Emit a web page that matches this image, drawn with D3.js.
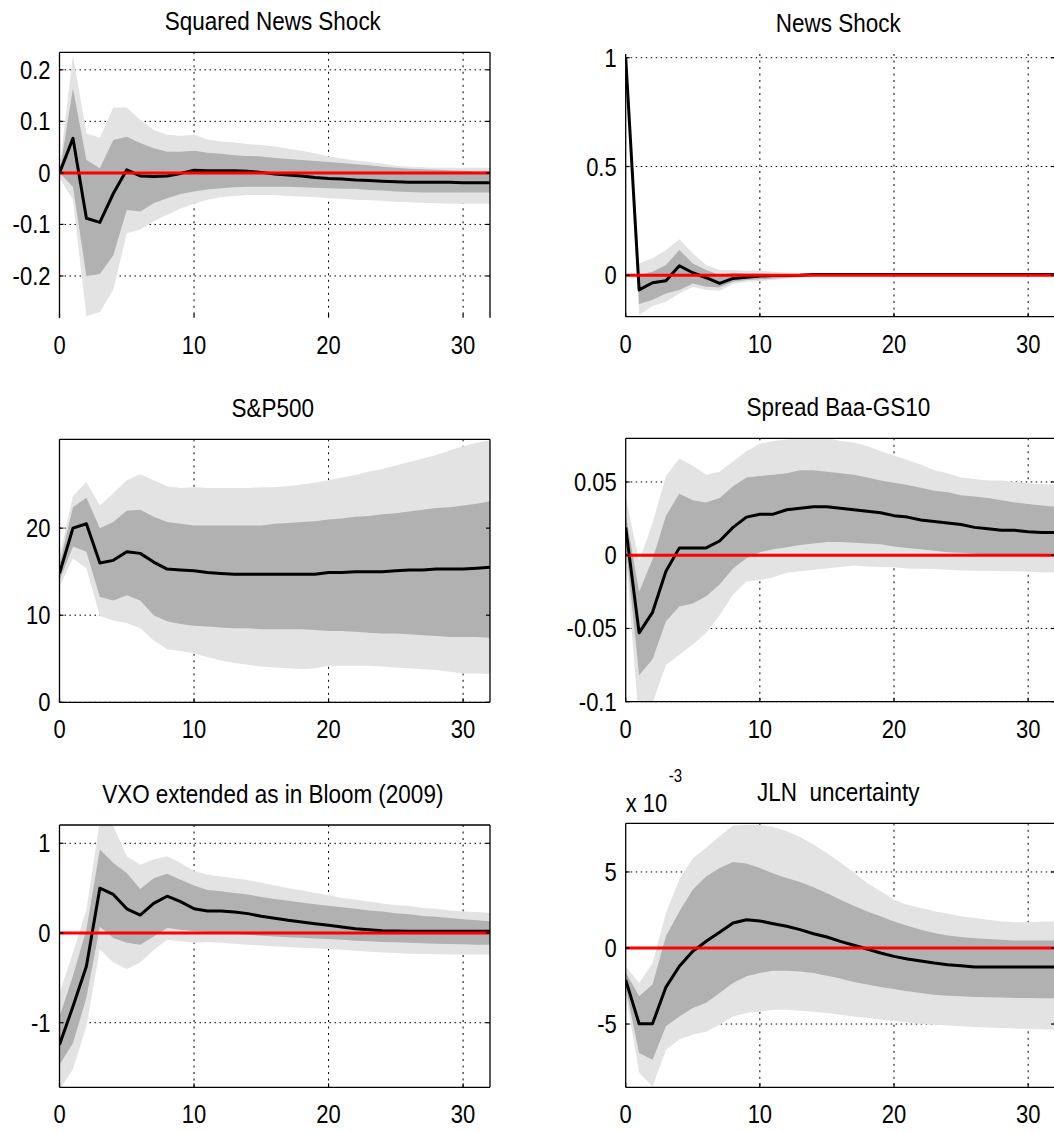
<!DOCTYPE html>
<html>
<head>
<meta charset="utf-8">
<script src="https://cdn.jsdelivr.net/npm/d3@7/dist/d3.min.js"></script>
<style>
  body { margin: 0; background: #fff; }
  svg text { font-family: "Liberation Sans", Arial, Helvetica, sans-serif; fill: #000; white-space: pre; }
</style>
</head>
<body>
<svg id="chart" width="1054" height="1132"></svg>
<script>
// Impulse responses, horizons 0..32, median + 68% and 90% bands
const horizons = [0, 1, 2, 3, 4, 5, 6, 7, 8, 9, 10, 11, 12, 13, 14, 15, 16, 17, 18, 19, 20, 21, 22, 23, 24, 25, 26, 27, 28, 29, 30, 31, 32];
const xTicks = [0, 10, 20, 30];

const titles = ["Squared News Shock", "News Shock", "S&P500", "Spread Baa-GS10", "VXO extended as in Bloom (2009)", "JLN  uncertainty"];

// Squared News Shock
const sqNewsMed = [0, 0.067, -0.088, -0.096, -0.04, 0.006, -0.006, -0.007, -0.006, -0.001, 0.005, 0.004, 0.004, 0.004, 0.003, 0.001, -0.002, -0.004, -0.006, -0.009, -0.011, -0.012, -0.014, -0.015, -0.016, -0.017, -0.018, -0.018, -0.018, -0.018, -0.019, -0.019, -0.019];
const sqNewsHi68 = [0, 0.164, 0.025, 0.009, 0.064, 0.07, 0.058, 0.048, 0.041, 0.041, 0.043, 0.039, 0.037, 0.034, 0.033, 0.032, 0.029, 0.027, 0.025, 0.023, 0.021, 0.019, 0.017, 0.015, 0.012, 0.01, 0.008, 0.007, 0.006, 0.005, 0.004, 0.003, 0.003];
const sqNewsLo68 = [0, -0.027, -0.2, -0.196, -0.16, -0.072, -0.075, -0.059, -0.049, -0.041, -0.036, -0.032, -0.03, -0.028, -0.027, -0.027, -0.027, -0.027, -0.028, -0.029, -0.03, -0.031, -0.031, -0.033, -0.034, -0.036, -0.037, -0.038, -0.038, -0.038, -0.038, -0.038, -0.038];
const sqNewsHi90 = [0.01, 0.229, 0.077, 0.068, 0.127, 0.127, 0.103, 0.083, 0.074, 0.072, 0.074, 0.065, 0.061, 0.059, 0.056, 0.054, 0.051, 0.047, 0.043, 0.038, 0.032, 0.028, 0.024, 0.021, 0.018, 0.014, 0.012, 0.011, 0.01, 0.01, 0.01, 0.01, 0.01];
const sqNewsLo90 = [-0.01, -0.052, -0.278, -0.27, -0.227, -0.117, -0.11, -0.094, -0.081, -0.069, -0.06, -0.052, -0.047, -0.045, -0.043, -0.043, -0.043, -0.045, -0.046, -0.047, -0.049, -0.05, -0.052, -0.053, -0.054, -0.056, -0.057, -0.058, -0.059, -0.06, -0.06, -0.06, -0.06];
const sqNewsTicks = [-0.2, -0.1, 0, 0.1, 0.2];
const sqNewsTickLabels = ["-0.2", "-0.1", "0", "0.1", "0.2"];

// News Shock
const newsMed = [1, -0.067, -0.034, -0.025, 0.044, 0.012, -0.011, -0.037, -0.014, -0.009, -0.003, -0.001, -0.001, 0, 0.004, 0.004, 0.004, 0.004, 0.004, 0.004, 0.004, 0.004, 0.004, 0.004, 0.004, 0.004, 0.004, 0.004, 0.004, 0.004, 0.004, 0.004, 0.004];
const newsHi68 = [1, 0.002, 0.017, 0.048, 0.117, 0.055, 0.025, 0.002, 0.012, 0.009, 0.009, 0.006, 0.005, 0.005, 0.006, 0.006, 0.006, 0.006, 0.006, 0.006, 0.006, 0.006, 0.006, 0.006, 0.006, 0.006, 0.006, 0.006, 0.006, 0.006, 0.006, 0.006, 0.006];
const newsLo68 = [1, -0.132, -0.112, -0.083, -0.067, -0.037, -0.052, -0.055, -0.029, -0.021, -0.018, -0.014, -0.011, -0.008, 0.001, 0.001, 0.001, 0.001, 0.001, 0.001, 0.001, 0.001, 0.001, 0.001, 0.001, 0.001, 0.001, 0.001, 0.001, 0.001, 0.001, 0.001, 0.001];
const newsHi90 = [1, 0.055, 0.078, 0.117, 0.166, 0.101, 0.047, 0.025, 0.025, 0.021, 0.021, 0.017, 0.012, 0.009, 0.008, 0.008, 0.008, 0.008, 0.008, 0.008, 0.008, 0.008, 0.008, 0.008, 0.008, 0.008, 0.008, 0.008, 0.008, 0.008, 0.008, 0.008, 0.008];
const newsLo90 = [1, -0.183, -0.141, -0.121, -0.083, -0.052, -0.067, -0.071, -0.04, -0.029, -0.026, -0.021, -0.015, -0.011, -0.002, -0.002, -0.002, -0.002, -0.002, -0.002, -0.002, -0.002, -0.002, -0.002, -0.002, -0.002, -0.002, -0.002, -0.002, -0.002, -0.002, -0.002, -0.002];
const newsTicks = [0, 0.5, 1];
const newsTickLabels = ["0", "0.5", "1"];

// S&P500
const spMed = [14.8, 20.0, 20.5, 16.0, 16.3, 17.3, 17.1, 16.1, 15.3, 15.2, 15.1, 14.9, 14.8, 14.7, 14.7, 14.7, 14.7, 14.7, 14.7, 14.7, 14.9, 14.9, 15.0, 15.0, 15.0, 15.1, 15.2, 15.2, 15.3, 15.3, 15.3, 15.4, 15.5];
const spHi68 = [15.8, 22.4, 23.5, 20.0, 20.7, 22.0, 22.1, 21.3, 20.7, 20.5, 20.3, 20.3, 20.3, 20.3, 20.3, 20.3, 20.5, 20.6, 20.7, 20.8, 21.0, 21.1, 21.3, 21.4, 21.6, 21.7, 21.9, 22.1, 22.3, 22.4, 22.6, 22.8, 23.1];
const spLo68 = [14.0, 17.9, 17.3, 12.1, 11.7, 12.3, 11.7, 10.0, 9.3, 9.0, 8.8, 8.7, 8.6, 8.5, 8.5, 8.4, 8.4, 8.4, 8.4, 8.3, 8.2, 8.2, 8.1, 8.0, 7.9, 7.9, 7.8, 7.7, 7.6, 7.5, 7.5, 7.5, 7.4];
const spHi90 = [16.7, 23.7, 25.3, 22.6, 24.0, 25.5, 26.2, 25.5, 24.8, 24.6, 24.7, 24.6, 24.6, 24.6, 24.6, 24.7, 24.7, 24.8, 25.0, 25.2, 25.5, 25.8, 26.1, 26.5, 26.8, 27.2, 27.6, 28.0, 28.4, 28.9, 29.4, 29.8, 30.1];
const spLo90 = [13.3, 16.5, 15.4, 9.9, 9.4, 9.1, 8.5, 7.1, 6.1, 5.9, 5.6, 5.2, 4.8, 4.5, 4.3, 4.1, 4.0, 3.9, 3.8, 3.9, 4.2, 4.2, 4.2, 4.2, 4.1, 4.0, 3.9, 3.8, 3.7, 3.5, 3.3, 3.3, 3.25];
const spTicks = [0, 10, 20];
const spTickLabels = ["0", "10", "20"];

// Spread Baa-GS10
const spreadMed = [0.019, -0.053, -0.039, -0.011, 0.005, 0.005, 0.005, 0.0097, 0.019, 0.026, 0.028, 0.028, 0.031, 0.032, 0.033, 0.033, 0.032, 0.031, 0.030, 0.029, 0.027, 0.026, 0.024, 0.023, 0.022, 0.021, 0.019, 0.018, 0.017, 0.017, 0.016, 0.0155, 0.0155];
const spreadHi68 = [0.028, -0.025, -0.003, 0.027, 0.042, 0.0375, 0.036, 0.039, 0.047, 0.053, 0.054, 0.055, 0.056, 0.058, 0.058, 0.057, 0.056, 0.055, 0.053, 0.051, 0.0495, 0.048, 0.046, 0.044, 0.043, 0.041, 0.040, 0.039, 0.0375, 0.036, 0.035, 0.034, 0.033];
const spreadLo68 = [0.008, -0.082, -0.071, -0.045, -0.035, -0.033, -0.028, -0.02, -0.009, -0.002, 0.002, 0.004, 0.0055, 0.007, 0.008, 0.009, 0.009, 0.0085, 0.008, 0.0074, 0.006, 0.005, 0.004, 0.003, 0.002, 0.0016, 0.001, 0.0005, 0.0005, 0, -0.0002, -0.0007, -0.0007];
const spreadHi90 = [0.04, -0.004, 0.022, 0.054, 0.066, 0.061, 0.055, 0.057, 0.064, 0.071, 0.076, 0.078, 0.079, 0.080, 0.080, 0.080, 0.078, 0.077, 0.0745, 0.071, 0.068, 0.065, 0.062, 0.058, 0.056, 0.053, 0.052, 0.051, 0.051, 0.050, 0.049, 0.0486, 0.048];
const spreadLo90 = [0.0, -0.115, -0.101, -0.075, -0.068, -0.061, -0.053, -0.041, -0.027, -0.018, -0.017, -0.015, -0.012, -0.011, -0.010, -0.009, -0.008, -0.007, -0.0077, -0.008, -0.0083, -0.009, -0.0093, -0.0095, -0.010, -0.0104, -0.0106, -0.0106, -0.011, -0.011, -0.0113, -0.0116, -0.0116];
const spreadTicks = [-0.1, -0.05, 0, 0.05];
const spreadTickLabels = ["-0.1", "-0.05", "0", "0.05"];

// VXO extended as in Bloom (2009)
const vxoMed = [-1.245, -0.82, -0.37, 0.50, 0.43, 0.27, 0.20, 0.33, 0.41, 0.35, 0.27, 0.245, 0.245, 0.234, 0.216, 0.186, 0.164, 0.141, 0.123, 0.104, 0.086, 0.067, 0.048, 0.037, 0.026, 0.022, 0.019, 0.019, 0.019, 0.019, 0.019, 0.019, 0.019];
const vxoHi68 = [-0.93, -0.48, 0.04, 0.93, 0.78, 0.67, 0.49, 0.61, 0.66, 0.595, 0.53, 0.48, 0.465, 0.446, 0.43, 0.40, 0.38, 0.36, 0.34, 0.32, 0.305, 0.286, 0.27, 0.25, 0.24, 0.22, 0.21, 0.19, 0.18, 0.167, 0.152, 0.141, 0.13];
const vxoLo68 = [-1.47, -1.23, -0.72, 0.07, -0.056, -0.11, -0.13, -0.04, 0.056, 0.037, 0.019, 0.01, 0.0, -0.007, -0.02, -0.03, -0.04, -0.048, -0.052, -0.06, -0.067, -0.074, -0.085, -0.093, -0.10, -0.104, -0.11, -0.115, -0.119, -0.123, -0.126, -0.13, -0.13];
const vxoHi90 = [-0.67, -0.22, 0.26, 1.25, 1.19, 0.855, 0.76, 0.82, 0.855, 0.78, 0.69, 0.65, 0.63, 0.61, 0.59, 0.56, 0.53, 0.50, 0.476, 0.446, 0.42, 0.39, 0.37, 0.35, 0.33, 0.31, 0.30, 0.28, 0.27, 0.25, 0.24, 0.234, 0.223];
const vxoLo90 = [-1.75, -1.52, -1.04, -0.18, -0.33, -0.40, -0.33, -0.19, -0.074, -0.093, -0.11, -0.10, -0.11, -0.12, -0.13, -0.14, -0.15, -0.156, -0.163, -0.17, -0.178, -0.186, -0.197, -0.208, -0.216, -0.223, -0.23, -0.234, -0.238, -0.24, -0.24, -0.24, -0.24];
const vxoTicks = [-1, 0, 1];
const vxoTickLabels = ["-1", "0", "1"];

// JLN uncertainty (units of 10^-3)
const jlnMed = [-2.1, -4.98, -4.98, -2.57, -1.2, -0.22, 0.44, 1.03, 1.64, 1.86, 1.78, 1.6, 1.43, 1.21, 0.94, 0.72, 0.44, 0.18, -0.07, -0.33, -0.55, -0.72, -0.86, -0.99, -1.10, -1.16, -1.25, -1.25, -1.25, -1.25, -1.25, -1.25, -1.25];
const jlnHi68 = [-1.6, -3.18, -2.4, 0.77, 2.4, 3.84, 4.7, 5.26, 5.66, 5.55, 5.26, 4.9, 4.6, 4.34, 4.0, 3.6, 3.18, 2.78, 2.4, 2.08, 1.75, 1.47, 1.2, 0.99, 0.83, 0.72, 0.64, 0.59, 0.55, 0.5, 0.5, 0.5, 0.5];
const jlnLo68 = [-2.6, -6.9, -7.35, -5.15, -4.5, -3.95, -3.6, -2.96, -2.3, -1.86, -1.64, -1.5, -1.5, -1.54, -1.64, -1.82, -2.0, -2.24, -2.4, -2.57, -2.7, -2.85, -2.96, -3.07, -3.14, -3.18, -3.22, -3.24, -3.26, -3.28, -3.29, -3.3, -3.3];
const jlnHi90 = [-1.2, -2.3, -1.0, 2.3, 4.5, 5.9, 6.6, 7.35, 8.05, 8.1, 8.1, 7.96, 7.68, 7.3, 6.8, 6.25, 5.63, 4.96, 4.28, 3.73, 3.18, 2.85, 2.63, 2.41, 2.26, 2.08, 1.97, 1.86, 1.75, 1.69, 1.69, 1.72, 1.75];
const jlnLo90 = [-3.0, -8.2, -9.1, -6.7, -6.0, -5.7, -5.5, -5.04, -4.5, -4.28, -4.17, -4.06, -4.06, -4.12, -4.2, -4.28, -4.39, -4.5, -4.6, -4.7, -4.8, -4.9, -4.98, -5.04, -5.1, -5.15, -5.2, -5.22, -5.26, -5.3, -5.33, -5.35, -5.37];
const jlnTicks = [-5, 0, 5];
const jlnTickLabels = ["-5", "0", "5"];

const LIGHT = "#e3e3e3";
const DARK = "#b1b1b1";
const FONT = 22;
const STRETCH = 1.18; // text in the picture is a bit taller than normal

// frame: which sides of the box are visible [top, right, bottom, left]
const panels = [
  { title: titles[0], med: sqNewsMed, hi68: sqNewsHi68, lo68: sqNewsLo68, hi90: sqNewsHi90, lo90: sqNewsLo90,
    ticks: sqNewsTicks, labels: sqNewsTickLabels, yDomain: [-0.281, 0.234],
    left: 59.5, right: 490, top: 52.3, bottom: 317.7, zero: true, frame: [1, 1, 0, 1] },
  { title: titles[1], med: newsMed, hi68: newsHi68, lo68: newsLo68, hi90: newsHi90, lo90: newsLo90,
    ticks: newsTicks, labels: newsTickLabels, yDomain: [-0.19, 1.017],
    left: 625.7, right: 1055, top: 54, bottom: 316.7, zero: true, frame: [0, 1, 1, 1] },
  { title: titles[2], med: spMed, hi68: spHi68, lo68: spLo68, hi90: spHi90, lo90: spLo90,
    ticks: spTicks, labels: spTickLabels, yDomain: [0, 30.2],
    left: 59.5, right: 490, top: 439.3, bottom: 702.3, zero: false, frame: [1, 1, 1, 1] },
  { title: titles[3], med: spreadMed, hi68: spreadHi68, lo68: spreadLo68, hi90: spreadHi90, lo90: spreadLo90,
    ticks: spreadTicks, labels: spreadTickLabels, yDomain: [-0.1, 0.0798],
    left: 625.7, right: 1055, top: 438.3, bottom: 701.7, zero: true, frame: [1, 1, 1, 1] },
  { title: titles[4], med: vxoMed, hi68: vxoHi68, lo68: vxoLo68, hi90: vxoHi90, lo90: vxoLo90,
    ticks: vxoTicks, labels: vxoTickLabels, yDomain: [-1.72, 1.204],
    left: 59.5, right: 490, top: 825, bottom: 1087.3, zero: true, frame: [1, 1, 1, 1] },
  { title: titles[5], med: jlnMed, hi68: jlnHi68, lo68: jlnLo68, hi90: jlnHi90, lo90: jlnLo90,
    ticks: jlnTicks, labels: jlnTickLabels, yDomain: [-9.16, 8.2],
    left: 625.7, right: 1055, top: 823.3, bottom: 1087.3, zero: true, frame: [1, 1, 1, 1], exponent: "-3" }
];

const svg = d3.select("#chart");

/**
 * Draw one impulse response panel
 * @param {Object} p panel settings
 * @param {number} k index, used for clip ids
 */
function drawPanel(p, k) {
  const x = d3.scaleLinear().domain([0, 32]).range([p.left, p.right]);
  const y = d3.scaleLinear().domain(p.yDomain).range([p.bottom, p.top]);
  const g = svg.append("g");

  g.append("clipPath").attr("id", "clip" + k)
    .append("rect")
    .attr("x", p.left).attr("y", p.top)
    .attr("width", p.right - p.left).attr("height", p.bottom - p.top);

  // dotted grid, drawn under the bands
  g.selectAll("line.hgrid").data(p.ticks).enter().append("line")
    .attr("x1", p.left).attr("x2", p.right)
    .attr("y1", d => y(d)).attr("y2", d => y(d))
    .attr("stroke", "#000").attr("stroke-width", 1)
    .attr("stroke-dasharray", "1.5,3.5");
  g.selectAll("line.vgrid").data(xTicks.filter(d => d > 0)).enter().append("line")
    .attr("x1", d => x(d)).attr("x2", d => x(d))
    .attr("y1", p.top).attr("y2", p.bottom)
    .attr("stroke", "#000").attr("stroke-width", 1)
    .attr("stroke-dasharray", "2,4.5");

  const plot = g.append("g").attr("clip-path", "url(#clip" + k + ")");

  const band = (lo, hi) => d3.area()
    .x((d, i) => x(d))
    .y0((d, i) => y(lo[i]))
    .y1((d, i) => y(hi[i]));

  plot.append("path").datum(horizons)
    .attr("d", band(p.lo90, p.hi90)).attr("fill", LIGHT);
  plot.append("path").datum(horizons)
    .attr("d", band(p.lo68, p.hi68)).attr("fill", DARK);

  plot.append("path").datum(horizons)
    .attr("d", d3.line().x(d => x(d)).y((d, i) => y(p.med[i])))
    .attr("fill", "none").attr("stroke", "#000").attr("stroke-width", 3)
    .attr("stroke-linejoin", "round");

  if (p.zero) {
    plot.append("line")
      .attr("x1", p.left).attr("x2", p.right)
      .attr("y1", y(0)).attr("y2", y(0))
      .attr("stroke", "#ff0000").attr("stroke-width", 3);
  }

  // box
  const sides = [
    [p.left, p.top, p.right, p.top],
    [p.right, p.top, p.right, p.bottom],
    [p.left, p.bottom, p.right, p.bottom],
    [p.left, p.top, p.left, p.bottom]
  ];
  sides.forEach((s, i) => {
    if (!p.frame[i]) return;
    g.append("line")
      .attr("x1", s[0]).attr("y1", s[1]).attr("x2", s[2]).attr("y2", s[3])
      .attr("stroke", "#000").attr("stroke-width", 1.3);
  });

  // inward tick marks
  p.ticks.forEach(t => {
    g.append("line").attr("x1", p.left).attr("x2", p.left + 4)
      .attr("y1", y(t)).attr("y2", y(t)).attr("stroke", "#000").attr("stroke-width", 1.2);
    g.append("line").attr("x1", p.right - 4).attr("x2", p.right)
      .attr("y1", y(t)).attr("y2", y(t)).attr("stroke", "#000").attr("stroke-width", 1.2);
  });
  xTicks.forEach(t => {
    g.append("line").attr("x1", x(t)).attr("x2", x(t))
      .attr("y1", p.bottom).attr("y2", p.bottom - 4).attr("stroke", "#000").attr("stroke-width", 1.2);
  });

  // labels
  g.selectAll("text.ylab").data(p.ticks).enter().append("text")
    .attr("transform", d => `translate(${p.left - 9},${y(d) + 9}) scale(1,${STRETCH})`)
    .attr("text-anchor", "end")
    .style("font-size", FONT + "px")
    .text((d, i) => p.labels[i]);

  g.selectAll("text.xlab").data(xTicks).enter().append("text")
    .attr("transform", d => `translate(${x(d)},${p.bottom + 36}) scale(1,${STRETCH})`)
    .attr("text-anchor", "middle")
    .style("font-size", FONT + "px")
    .text(d => d);

  g.append("text")
    .attr("transform", `translate(${(p.left + p.right) / 2 - 2},${p.top - 22.5}) scale(1,${STRETCH})`)
    .attr("text-anchor", "middle")
    .attr("xml:space", "preserve")
    .style("font-size", "22.5px")
    .text(p.title);

  if (p.exponent) {
    g.append("text")
      .attr("transform", `translate(${p.left},${p.top - 11}) scale(1,${STRETCH})`)
      .style("font-size", FONT + "px")
      .text("x 10");
    g.append("text")
      .attr("transform", `translate(${p.left + 43},${p.top - 41.5}) scale(1,${STRETCH})`)
      .style("font-size", "15px")
      .text(p.exponent);
  }
}

panels.forEach(drawPanel);
</script>
</body>
</html>
